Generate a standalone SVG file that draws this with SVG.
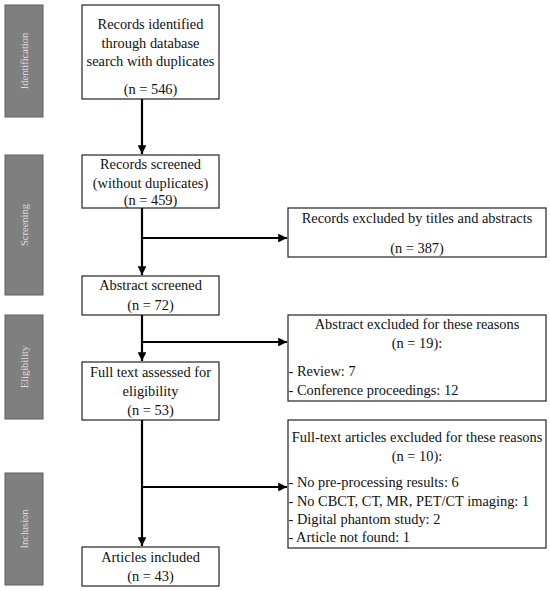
<svg xmlns="http://www.w3.org/2000/svg" width="550" height="591" viewBox="0 0 550 591">
<style>
.bg{fill:#ffffff}
.bar{fill:#7f7f7f;stroke:#5f5f5f;stroke-width:1}
.bl{font-family:"Liberation Serif",serif;font-size:10.5px;fill:#dedede;text-anchor:middle}
.box{fill:#ffffff;stroke:#222;stroke-width:1.2}
.t{font-family:"Liberation Serif",serif;font-size:14.4px;fill:#111}
.c{text-anchor:middle}
.ln{stroke:#000;stroke-width:2.2;fill:none}
</style>
<defs>
<marker id="ah" viewBox="0 0 10 10" refX="10" refY="5" markerWidth="4" markerHeight="4" orient="auto" markerUnits="strokeWidth">
<path d="M0,0 L10,5 L0,10 z" fill="#000"/>
</marker>
</defs>
<rect class="bg" x="0" y="0" width="550" height="591"/>
<g id="bars">
<g id="bar-identification"><rect class="bar" x="5" y="5" width="38" height="112"/><text class="bl" transform="translate(27.5,61) rotate(-90)">Identification</text></g>
<g id="bar-screening"><rect class="bar" x="5" y="155" width="38" height="140"/><text class="bl" transform="translate(27.5,225) rotate(-90)">Screening</text></g>
<g id="bar-eligibility"><rect class="bar" x="5" y="315" width="38" height="104"/><text class="bl" transform="translate(27.5,367) rotate(-90)">Eligibility</text></g>
<g id="bar-inclusion"><rect class="bar" x="5" y="473" width="38" height="112"/><text class="bl" transform="translate(27.5,529) rotate(-90)">Inclusion</text></g>
</g>
<g id="connectors">
<line class="ln" x1="142" y1="99" x2="142" y2="154" marker-end="url(#ah)"/>
<line class="ln" x1="142" y1="208" x2="142" y2="275" marker-end="url(#ah)"/>
<line class="ln" x1="142" y1="238" x2="287" y2="238" marker-end="url(#ah)"/>
<line class="ln" x1="142" y1="315" x2="142" y2="361" marker-end="url(#ah)"/>
<line class="ln" x1="142" y1="342" x2="287" y2="342" marker-end="url(#ah)"/>
<line class="ln" x1="142" y1="420" x2="142" y2="546" marker-end="url(#ah)"/>
<line class="ln" x1="142" y1="487" x2="287" y2="487" marker-end="url(#ah)"/>
</g>
<g id="n1"><rect class="box" x="82" y="5" width="137" height="94"/>
<text class="t c" x="150.5" y="29">Records identified</text>
<text class="t c" x="150.5" y="47.5">through database</text>
<text class="t c" x="150.5" y="66">search with duplicates</text>
<text class="t c" x="150.5" y="94">(n = 546)</text></g>
<g id="n2"><rect class="box" x="82" y="155" width="137" height="53"/>
<text class="t c" x="150.5" y="169">Records screened</text>
<text class="t c" x="150.5" y="187.5">(without duplicates)</text>
<text class="t c" x="150.5" y="205">(n = 459)</text></g>
<g id="n3"><rect class="box" x="288" y="208" width="258" height="49"/>
<text class="t c" x="417" y="223">Records excluded by titles and abstracts</text>
<text class="t c" x="417" y="253">(n = 387)</text></g>
<g id="n4"><rect class="box" x="82" y="276" width="137" height="39"/>
<text class="t c" x="150.5" y="290">Abstract screened</text>
<text class="t c" x="150.5" y="310">(n = 72)</text></g>
<g id="n5"><rect class="box" x="288" y="315" width="258" height="86"/>
<text class="t c" x="417" y="329">Abstract excluded for these reasons</text>
<text class="t c" x="417" y="348">(n = 19):</text>
<text class="t" x="288.5" y="376">- Review: 7</text>
<text class="t" x="288.5" y="395">- Conference proceedings: 12</text></g>
<g id="n6"><rect class="box" x="82" y="362" width="137" height="58"/>
<text class="t c" x="150.5" y="377">Full text assessed for</text>
<text class="t c" x="150.5" y="396">eligibility</text>
<text class="t c" x="150.5" y="415">(n = 53)</text></g>
<g id="n7"><rect class="box" x="288" y="420" width="258" height="128"/>
<text class="t c" x="417" y="442">Full-text articles excluded for these reasons</text>
<text class="t c" x="417" y="461">(n = 10):</text>
<text class="t" x="288.5" y="487">- No pre-processing results: 6</text>
<text class="t" x="288.5" y="505.5">- No CBCT, CT, MR, PET/CT imaging: 1</text>
<text class="t" x="288.5" y="524">- Digital phantom study: 2</text>
<text class="t" x="288.5" y="542">- Article not found: 1</text></g>
<g id="n8"><rect class="box" x="82" y="547" width="137" height="39"/>
<text class="t c" x="150.5" y="562">Articles included</text>
<text class="t c" x="150.5" y="581">(n = 43)</text></g>
</svg>
